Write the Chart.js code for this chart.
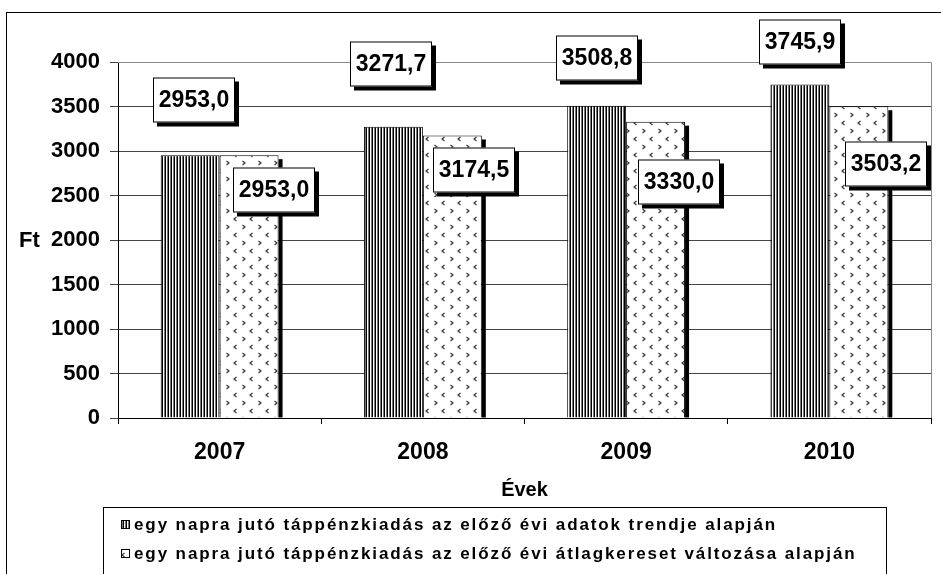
<!DOCTYPE html>
<html>
<head>
<meta charset="utf-8">
<script src="https://cdn.jsdelivr.net/npm/chart.js@4.4.0/dist/chart.umd.min.js"></script>
<style>
  body { margin: 0; background: #fff; }
  canvas { display: block; }
</style>
</head>
<body>
<canvas id="chart" width="941" height="574"></canvas>
<script>
const years = ['2007', '2008', '2009', '2010'];
const trendValues = [2953.0, 3271.7, 3508.8, 3745.9];
const wageValues = [2953.0, 3174.5, 3330.0, 3503.2];
const seriesNames = [
  'egy napra jutó táppénzkiadás az előző évi adatok trendje alapján',
  'egy napra jutó táppénzkiadás az előző évi átlagkereset változása alapján'
];
const yTicks = [0, 500, 1000, 1500, 2000, 2500, 3000, 3500, 4000];

// where each value box sits, relative to the top of its bar (px)
const labelOffsets = [
  [[4, -55], [-2, -63], [0, -48], [0, -43]],
  [[25, 35], [22, 35], [23, 60], [27, 58]]
];

const FONT = '"Liberation Sans", Arial, sans-serif';
const ctx = document.getElementById('chart').getContext('2d');

function stripePattern() {
  const c = document.createElement('canvas');
  c.width = 3; c.height = 1;
  const g = c.getContext('2d');
  g.fillStyle = '#fff'; g.fillRect(0, 0, 3, 1);
  g.fillStyle = '#000'; g.fillRect(0, 0, 1, 1);
  g.fillStyle = '#777'; g.fillRect(2, 0, 1, 1);
  return ctx.createPattern(c, 'repeat');
}

function chevronPattern() {
  const c = document.createElement('canvas');
  c.width = 16; c.height = 16;
  const g = c.getContext('2d');
  g.fillStyle = '#fff'; g.fillRect(0, 0, 16, 16);
  g.strokeStyle = '#333'; g.lineWidth = 1.2;
  g.beginPath(); g.moveTo(2.5, 1); g.lineTo(5, 3); g.lineTo(2.5, 5); g.stroke();
  g.beginPath(); g.moveTo(12.5, 9); g.lineTo(10, 11); g.lineTo(12.5, 13); g.stroke();
  return ctx.createPattern(c, 'repeat');
}

const fills = [stripePattern(), chevronPattern()];

const decor = {
  id: 'decor',
  beforeDraw(chart) {
    const c = chart.ctx;
    c.save();
    c.strokeStyle = '#000';
    c.lineWidth = 1;
    c.strokeRect(6.5, 12.5, 1000, 1000);
    c.restore();
  },
  beforeDatasetsDraw(chart) {
    const c = chart.ctx;
    const a = chart.chartArea;
    c.save();
    c.strokeStyle = '#888';
    c.lineWidth = 1;
    c.beginPath();
    c.moveTo(a.left, Math.round(a.top) + 0.5);
    c.lineTo(Math.round(a.right) + 0.5, Math.round(a.top) + 0.5);
    c.lineTo(Math.round(a.right) + 0.5, a.bottom);
    c.stroke();
    c.restore();
  },
  afterDatasetsDraw(chart) {
    const c = chart.ctx;
    c.save();
    // shadow on the right side of the second series
    chart.getDatasetMeta(1).data.forEach(bar => {
      const p = bar.getProps(['x', 'y', 'base', 'width'], true);
      c.fillStyle = '#000';
      c.fillRect(p.x + p.width / 2, p.y + 4, 4, p.base - p.y - 4);
    });
    // value boxes
    c.font = 'bold 23px ' + FONT;
    c.textAlign = 'center';
    c.textBaseline = 'middle';
    chart.data.datasets.forEach((ds, di) => {
      chart.getDatasetMeta(di).data.forEach((bar, i) => {
        const p = bar.getProps(['x', 'y'], true);
        const cx = Math.round(p.x + labelOffsets[di][i][0]);
        const cy = Math.round(p.y + labelOffsets[di][i][1]);
        const w = 82, h = 45;
        const x0 = cx - w / 2, y0 = cy - h / 2;
        c.fillStyle = '#000';
        c.fillRect(x0 + 4, y0 + 4, w, h);
        c.fillStyle = '#fff';
        c.fillRect(x0, y0, w, h);
        c.strokeStyle = '#000';
        c.lineWidth = 1;
        c.strokeRect(x0 + 0.5, y0 + 0.5, w - 1, h - 1);
        c.fillStyle = '#000';
        c.fillText(ds.data[i].toFixed(1).replace('.', ','), cx, cy + 1);
      });
    });
    c.restore();
  },
  afterDraw(chart) {
    const c = chart.ctx;
    const y = chart.scales.y;
    const a = chart.chartArea;
    c.save();
    c.fillStyle = '#000';
    c.font = 'bold 22px ' + FONT;
    c.textAlign = 'left';
    c.textBaseline = 'middle';
    c.fillText('Ft', 19, y.getPixelForValue(2000) + 1);

    // legend box
    const lx = a.left - 15, ly = chart.scales.x.bottom + 5;
    c.strokeStyle = '#000';
    c.lineWidth = 1;
    c.strokeRect(lx + 0.5, ly + 0.5, 783, 200);
    c.font = 'bold 17px ' + FONT;
    c.letterSpacing = '1.9px';
    seriesNames.forEach((name, i) => {
      const ry = ly + 18 + i * 29;
      c.fillStyle = fills[i];
      c.fillRect(lx + 18, ry - 5, 9, 9);
      c.strokeStyle = '#000';
      c.strokeRect(lx + 18.5, ry - 4.5, 8, 8);
      c.fillStyle = '#000';
      c.fillText(name, lx + 31, ry);
    });
    c.restore();
  }
};

const tickFont = { family: FONT, size: 22, weight: 'bold' };

const chart = new Chart(ctx, {
  type: 'bar',
  data: {
    labels: years,
    datasets: [
      { label: seriesNames[0], data: trendValues, backgroundColor: fills[0], borderColor: '#000', borderWidth: 1 },
      { label: seriesNames[1], data: wageValues, backgroundColor: fills[1], borderColor: '#000', borderWidth: 1 }
    ]
  },
  options: {
    responsive: false,
    animation: false,
    layout: { padding: { left: 0, right: 10, top: 62, bottom: 72 } },
    datasets: { bar: { categoryPercentage: 0.58, barPercentage: 1 } },
    plugins: { legend: { display: false }, tooltip: { enabled: false } },
    scales: {
      x: {
        grid: { offset: true, drawOnChartArea: false, tickLength: 6, color: '#000' },
        border: { color: '#000' },
        ticks: { font: { family: FONT, size: 23, weight: 'bold' }, color: '#000', padding: 15 },
        title: { display: true, text: 'Évek', color: '#000', font: { family: FONT, size: 20, weight: 'bold' }, padding: 0 },
        afterFit: s => { s.height = 84; }
      },
      y: {
        min: 0,
        max: 4000,
        afterBuildTicks: s => { s.ticks = yTicks.map(v => ({ value: v })); },
        ticks: { font: tickFont, color: '#000', padding: 10, callback: v => String(v) },
        grid: { color: '#444', tickLength: 8 },
        border: { color: '#000' },
        afterFit: s => { s.width = 118; }
      }
    }
  },
  plugins: [decor]
});
</script>
</body>
</html>
